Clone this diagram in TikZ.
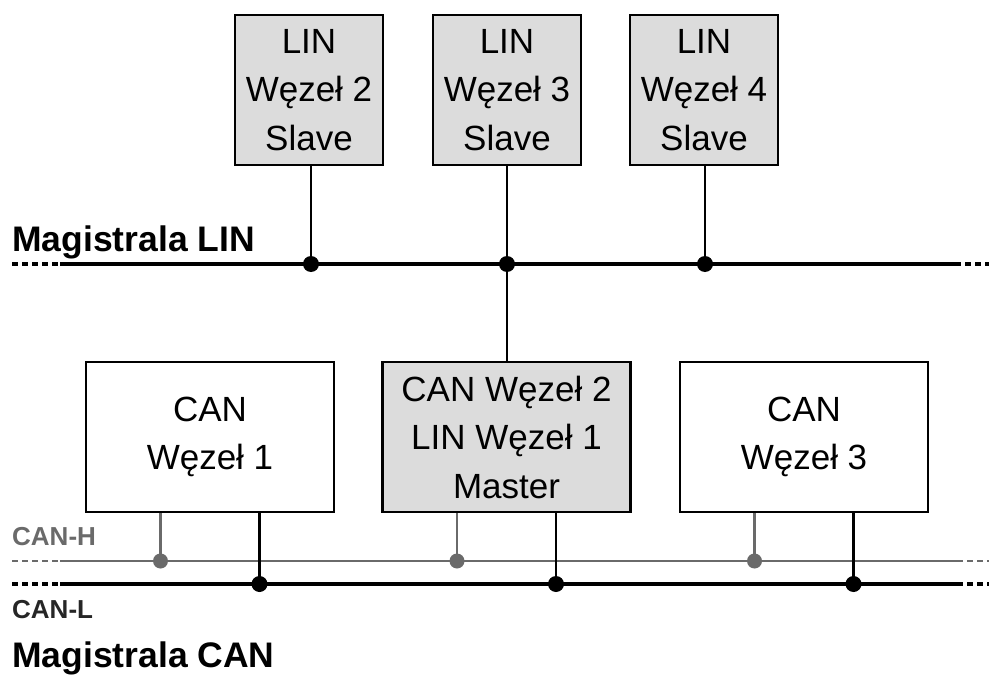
\documentclass[tikz,border=0pt]{standalone}
\usepackage{fontspec}
\setmainfont{Liberation Sans}
\definecolor{boxgray}{HTML}{DCDCDC}
\definecolor{hline}{HTML}{6A6A6A}
\begin{document}
\begin{tikzpicture}[x=1pt,y=-1pt,
  nodebox/.style={draw=black,line width=2.6pt,minimum width=148pt,minimum height=150pt,
    align=center,inner sep=0pt,font=\fontsize{35}{48.5}\selectfont},
  widebox/.style={nodebox,minimum width=248pt},
  shaded/.style={fill=boxgray},
  busline/.style={line width=3.2pt,black},
  stub/.style={line width=2.8pt,black},
  endpart/.style={busline,dash pattern=on 6pt off 4pt},
  tap/.style={circle,fill=black,inner sep=0pt,minimum size=16pt},
  htap/.style={circle,fill=hline,inner sep=0pt,minimum size=15pt},
  title/.style={anchor=base west,inner sep=0pt,font=\fontsize{35.5}{40}\selectfont\bfseries},
  wire/.style={anchor=base west,inner sep=0pt,font=\fontsize{26}{30}\selectfont\bfseries}]
\useasboundingbox (0,0) rectangle (989,677);

% LIN slave nodes
\node[nodebox,shaded] (lin2) at (309,90) {LIN\\Węzeł 2\\Slave};
\node[nodebox,shaded] (lin3) at (507,90) {LIN\\Węzeł 3\\Slave};
\node[nodebox,shaded] (lin4) at (704,90) {LIN\\Węzeł 4\\Slave};

% LIN bus
\coordinate (linL) at (12,264);
\coordinate (linA) at (60,264);
\coordinate (linB) at (955,264);
\coordinate (linR) at (989,264);
\draw[endpart] (linL) -- (linA);
\draw[busline] (linA) -- (linB);
\draw[endpart] (linB) -- (linR);
\node[title] (linlabel) at (12,251) {Magistrala LIN};

\node[tap] (t2) at (311,264) {};
\node[tap] (t3) at (507,264) {};
\node[tap] (t4) at (705,264) {};
\draw[stub] (lin2.south -| t2) -- (t2.center);
\draw[stub] (lin3.south) -- (t3.center);
\draw[stub] (lin4.south -| t4) -- (t4.center);

% CAN nodes
\node[widebox] (can1) at (210,437) {CAN\\Węzeł 1};
\node[widebox,shaded] (can2) at (506.5,437) {CAN Węzeł 2\\LIN Węzeł 1\\Master};
\node[widebox] (can3) at (804,437) {CAN\\Węzeł 3};
\draw[stub] (t3.center) -- (can2.north -| t3);

% CAN-H and CAN-L lines
\coordinate (hL) at (12,561);
\coordinate (hA) at (60,561);
\coordinate (hB) at (957,561);
\coordinate (hR) at (989,561);
\coordinate (lL) at (12,584);
\coordinate (lA) at (60,584);
\coordinate (lB) at (957,584);
\coordinate (lR) at (989,584);
\draw[endpart,hline,line width=2.7pt] (hL) -- (hA);
\draw[busline,hline,line width=2.7pt] (hA) -- (hB);
\draw[endpart,hline,line width=2.7pt] (hB) -- (hR);
\draw[endpart] (lL) -- (lA);
\draw[busline] (lA) -- (lB);
\draw[endpart] (lB) -- (lR);

\node[wire,text=hline] (hlabel) at (12,545) {CAN-H};
\node[wire,text=black!85] (llabel) at (12,618) {CAN-L};
\node[title] (canlabel) at (12,667) {Magistrala CAN};

% CAN taps
\foreach \n/\x in {can1/210,can2/506.5,can3/804}{
  \node[htap] (\n h) at (\x-49.5,561) {};
  \node[tap] (\n l) at (\x+49.5,584) {};
  \draw[stub,hline] (\n.south -| \n h) -- (\n h.center);
  \draw[stub] (\n.south -| \n l) -- (\n l.center);
}
\end{tikzpicture}
\end{document}
